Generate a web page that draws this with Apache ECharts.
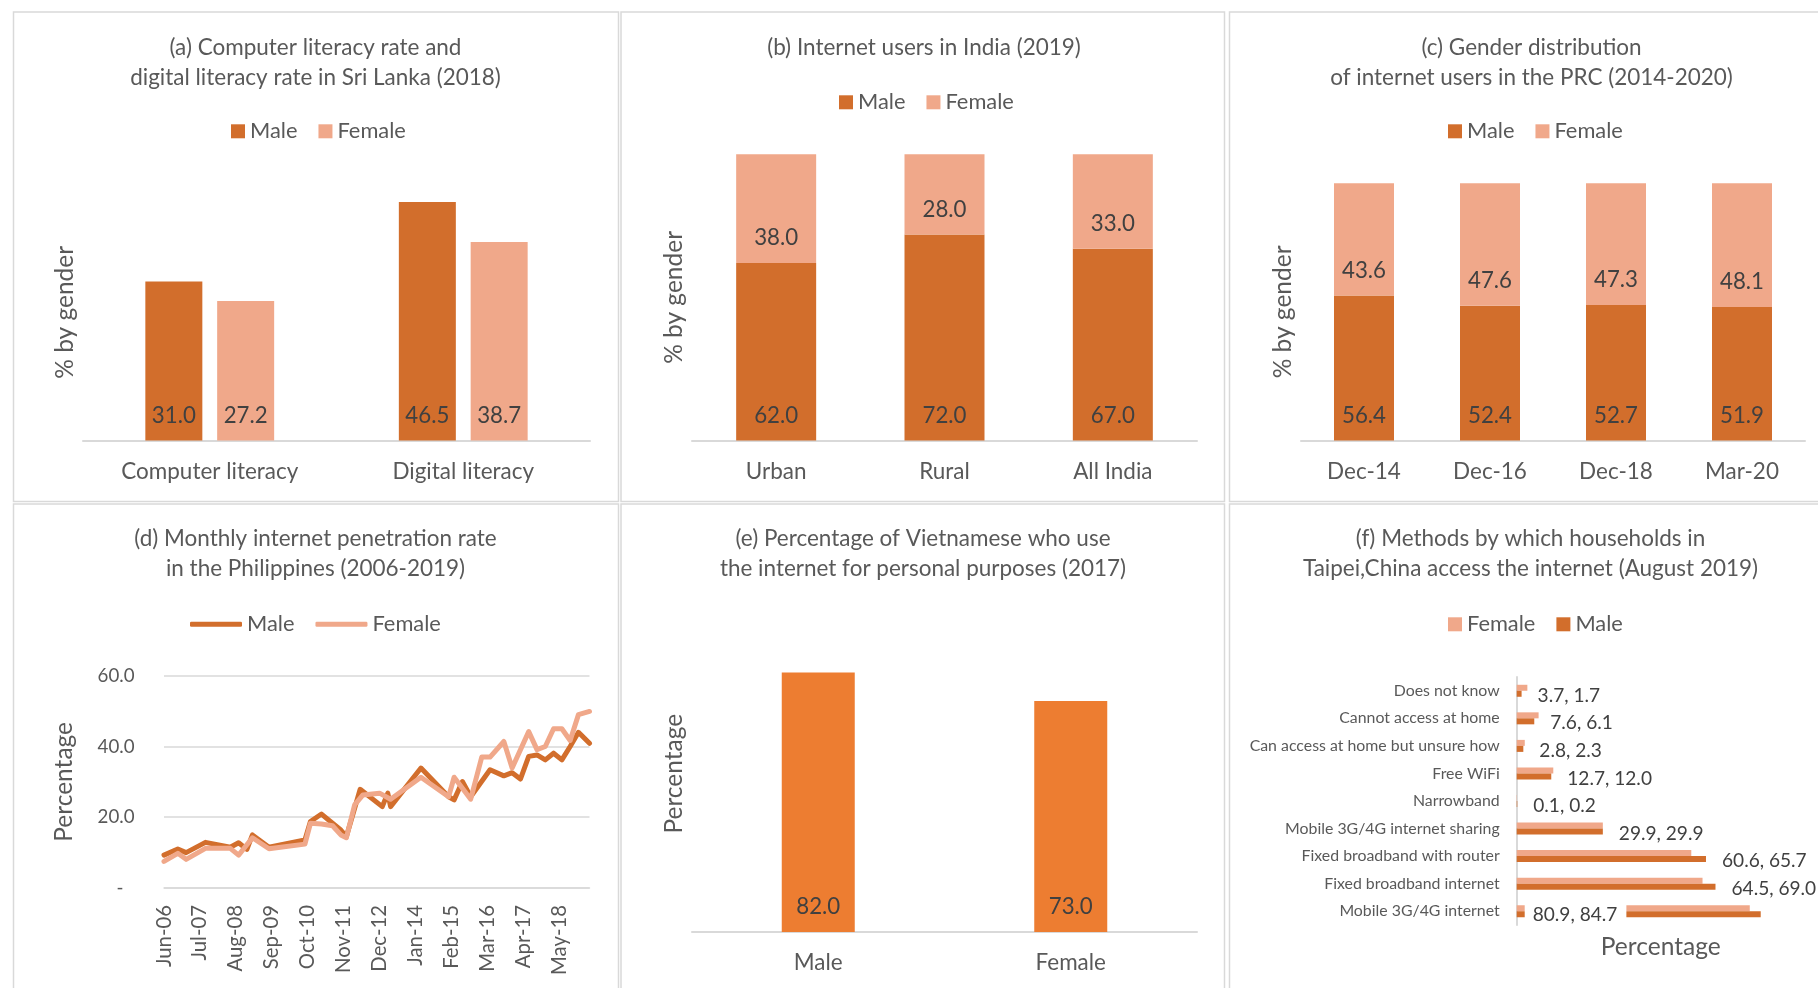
<!DOCTYPE html>
<html><head><meta charset="utf-8">
<script src="https://cdn.jsdelivr.net/npm/echarts@6/dist/echarts.min.js"></script>
<style>html,body{margin:0;padding:0;background:#fff}#c{width:1818px;height:988px}</style>
</head><body><div id="c"></div><script>
// ---------- DATA ----------
const literacyCats = ['Computer literacy', 'Digital literacy'];
const literacyMale = [31.0, 46.5];
const literacyFemale = [27.2, 38.7];

const indiaCats = ['Urban', 'Rural', 'All India'];
const indiaMale = [62.0, 72.0, 67.0];
const indiaFemale = [38.0, 28.0, 33.0];

const prcCats = ['Dec-14', 'Dec-16', 'Dec-18', 'Mar-20'];
const prcMale = [56.4, 52.4, 52.7, 51.9];
const prcFemale = [43.6, 47.6, 47.3, 48.1];

const phAxisStart = 'Jun-06';
const phAxisEnd = 'Apr-19';
const phMonths = ['Jun-06','Nov-06','Feb-07','Sep-07','Jun-08','Sep-08','Dec-08','Feb-09','Aug-09','Sep-10',
  'Nov-10','Mar-11','Jul-11','Oct-11','Dec-11','Mar-12','May-12','Jun-12','Dec-12','Jan-13',
  'Mar-13','Apr-13','Mar-14','Jan-15','Mar-15','Jun-15','Sep-15','Jan-16','Apr-16','Sep-16',
  'Dec-16','Mar-17','Jun-17','Sep-17','Dec-17','Mar-18','Jun-18','Sep-18','Dec-18','Apr-19'];
const phMale = [9.3, 11.0, 10.0, 12.9, 11.5, 12.8, 10.9, 15.0, 11.5, 13.6,
  18.8, 20.9, 18.3, 16.4, 14.5, null, 27.9, null, null, 23.0,
  26.8, 23.0, 33.9, 25.8, 24.9, 30.1, 25.8, null, 33.4, 31.7,
  32.6, 30.8, 37.2, 37.6, 36.2, 38.1, 36.2, 40.0, 44.0, 40.9];
const phFemale = [7.5, 9.8, 8.1, 11.2, 11.2, 9.3, null, 14.2, 11.1, 12.4,
  18.3, 18.1, 17.6, 15.0, 14.2, 23.5, null, 26.3, 26.8, null,
  null, 25.1, 31.3, 25.8, 31.3, null, 25.1, 37.0, 37.0, 41.4,
  33.9, null, 44.2, 39.1, 40.0, 45.0, 45.0, 41.7, 49.0, 49.9];

const vnCats = ['Male', 'Female'];
const vnValues = [82.0, 73.0];

const tpCats = ['Does not know', 'Cannot access at home', 'Can access at home but unsure how', 'Free WiFi',
  'Narrowband', 'Mobile 3G/4G internet sharing', 'Fixed broadband with router', 'Fixed broadband internet',
  'Mobile 3G/4G internet'];
const tpFemale = [3.7, 7.6, 2.8, 12.7, 0.1, 29.9, 60.6, 64.5, 80.9];
const tpMale = [1.7, 6.1, 2.3, 12.0, 0.2, 29.9, 65.7, 69.0, 84.7];

// ---------- HELPERS ----------
const MON = ['Jan','Feb','Mar','Apr','May','Jun','Jul','Aug','Sep','Oct','Nov','Dec'];
function parseM(s) { const p = s.split('-'); return (2000 + (+p[1])) * 12 + MON.indexOf(p[0]); }
const a0 = parseM(phAxisStart), a1 = parseM(phAxisEnd);
const phAxis = [];
for (let k = a0; k <= a1; k++) phAxis.push(MON[k % 12] + '-' + String(Math.floor(k / 12) % 100).padStart(2, '0'));
function toLine(vals) {
  const out = phAxis.map(() => null);
  phMonths.forEach((m, i) => { if (vals[i] != null) out[parseM(m) - a0] = vals[i]; });
  return out;
}

const FAM = 'Lato, "Liberation Sans", sans-serif';
const ctx = document.createElement('canvas').getContext('2d');
function fit(text, w) { ctx.font = '100px ' + FAM; return +(100 * w / ctx.measureText(text).width).toFixed(2); }
const fsTitle = fit('(a) Computer literacy rate and', 292);
const fsCat = fit('Computer literacy', 177);
const fsYName = fit('% by gender', 133);
const fsBarLbl = fit('31.0', 44);
const fsLegend = fit('Female', 68.4);
const fsTpCat = fit('Mobile 3G/4G internet sharing', 214.7);
const fsTpLbl = fit('29.9, 29.9', 84.7);
const fsPhY = fit('60.0', 37);
const fsPhX = fit('May-18', 70);
const fsPct = fit('Percentage', 120);

const C_M = '#D26E2C', C_F = '#F0A88A', C_E = '#ED7D31', TXT = '#595959', LBL = '#404040', GRID = '#D9D9D9';

const fmt1 = p => p.value.toFixed(1);
const barLabel = { show: true, position: 'insideBottom', distance: 14, formatter: fmt1, color: LBL, fontSize: fsBarLbl, fontFamily: FAM };

function titleAt(text, x, y) {
  return { text, left: x, top: y, textAlign: 'center', padding: 0,
    textStyle: { fontFamily: FAM, fontSize: fsTitle, fontWeight: 'normal', color: TXT, lineHeight: 30 } };
}
function legendAt(names, x, y, line) {
  return { data: names, left: x, top: y, padding: 0, selectedMode: false,
    icon: line ? 'roundRect' : 'rect', itemWidth: line ? 52 : 14, itemHeight: line ? 5 : 14, itemGap: 21,
    textStyle: { fontFamily: FAM, fontSize: fsLegend, color: TXT } };
}
function catX(gi, data) {
  return { type: 'category', gridIndex: gi, data,
    axisLine: { lineStyle: { color: GRID, width: 2 } }, axisTick: { show: false },
    axisLabel: { color: TXT, fontSize: fsCat, fontFamily: FAM, margin: 20 } };
}
function hiddenY(gi, max, name) {
  return { type: 'value', gridIndex: gi, min: 0, max, name, nameLocation: 'middle', nameGap: 5,
    nameMoveOverlap: false,
    nameTextStyle: { color: TXT, fontSize: fsYName, fontFamily: FAM },
    axisLine: { show: false }, axisTick: { show: false }, axisLabel: { show: false }, splitLine: { show: false } };
}

const panels = [
  [13.5, 12, 605, 489.5], [621, 12, 603.5, 489.5], [1229.5, 12, 600, 489.5],
  [13.5, 504, 605, 500], [621, 504, 603.5, 500], [1229.5, 504, 600, 500]
];

const option = {
  animation: false,
  backgroundColor: '#fff',
  textStyle: { fontFamily: FAM },
  graphic: panels.map(r => ({ type: 'rect', silent: true, z: -10,
    shape: { x: r[0], y: r[1], width: r[2], height: r[3] },
    style: { fill: 'none', stroke: GRID, lineWidth: 1.5 } })),
  title: [
    titleAt('(a) Computer literacy rate and\ndigital literacy rate in Sri Lanka (2018)', 315.5, 32.6),
    titleAt('(b) Internet users in India (2019)', 924, 32.6),
    titleAt('(c) Gender distribution\nof internet users in the PRC (2014-2020)', 1531.5, 32.6),
    titleAt('(d) Monthly internet penetration rate\nin the Philippines (2006-2019)', 315.5, 524.2),
    titleAt('(e) Percentage of Vietnamese who use\nthe internet for personal purposes (2017)', 923, 524.2),
    titleAt('(f) Methods by which households in\nTaipei,China access the internet (August 2019)', 1530.5, 524.2)
  ],
  legend: [
    legendAt(['Male', 'Female'], 231, 120.3),
    legendAt(['Male', 'Female'], 839, 91.3),
    legendAt(['Male', 'Female'], 1448, 120.3),
    legendAt(['Male', 'Female'], 190, 613.3, true),
    legendAt(['Female', 'Male'], 1448, 613.3)
  ],
  grid: [
    { left: 83, top: 184, width: 507, height: 256.6, outerBoundsMode: 'none' },
    { left: 692, top: 154.2, width: 505, height: 286.4, outerBoundsMode: 'none' },
    { left: 1301, top: 183.2, width: 504, height: 257.4, outerBoundsMode: 'none' },
    { left: 164, top: 675.7, width: 425.5, height: 212.3, outerBoundsMode: 'none' },
    { left: 692, top: 615.4, width: 505, height: 316.6, outerBoundsMode: 'none' },
    { left: 1516.7, top: 677, width: 288.1, height: 248, outerBoundsMode: 'none' }
  ],
  xAxis: [
    catX(0, literacyCats),
    catX(1, indiaCats),
    catX(2, prcCats),
    { type: 'category', gridIndex: 3, data: phAxis, boundaryGap: false,
      axisLine: { lineStyle: { color: GRID, width: 1.5 } }, axisTick: { show: false },
      axisLabel: { rotate: 90, interval: 12, margin: 17, color: TXT, fontSize: fsPhX, fontFamily: FAM } },
    catX(4, vnCats),
    { type: 'value', gridIndex: 5, min: 0, max: 100, name: 'Percentage', nameLocation: 'middle', nameGap: 10,
      nameMoveOverlap: false,
      nameTextStyle: { color: TXT, fontSize: fsPct, fontFamily: FAM },
      axisLine: { show: false }, axisTick: { show: false }, axisLabel: { show: false }, splitLine: { show: false } }
  ],
  yAxis: [
    hiddenY(0, 50, '% by gender'),
    hiddenY(1, 100, '% by gender'),
    hiddenY(2, 100, '% by gender'),
    { type: 'value', gridIndex: 3, min: 0, max: 60, interval: 20, name: 'Percentage', nameLocation: 'middle',
      nameGap: 87, nameMoveOverlap: false,
      nameTextStyle: { color: TXT, fontSize: fsYName, fontFamily: FAM },
      axisLine: { show: false }, axisTick: { show: false },
      splitLine: { lineStyle: { color: GRID, width: 1.5 } },
      axisLabel: { margin: 29.5, color: TXT, fontSize: fsPhY, fontFamily: FAM,
        formatter: v => v === 0 ? '{z|-}' : v.toFixed(1),
        rich: { z: { width: 18, align: 'left', color: TXT, fontSize: fsPhY, fontFamily: FAM } } } },
    hiddenY(4, 100, 'Percentage'),
    { type: 'category', gridIndex: 5, data: tpCats, inverse: true,
      axisLine: { lineStyle: { color: GRID, width: 2 } }, axisTick: { show: false },
      axisLabel: { color: TXT, fontSize: fsTpCat, fontFamily: FAM, margin: 17 } }
  ],
  series: [
    { type: 'bar', name: 'Male', xAxisIndex: 0, yAxisIndex: 0, data: literacyMale, barWidth: 57, barGap: '26%',
      itemStyle: { color: C_M }, label: barLabel },
    { type: 'bar', name: 'Female', xAxisIndex: 0, yAxisIndex: 0, data: literacyFemale, barWidth: 57, barGap: '26%',
      itemStyle: { color: C_F }, label: barLabel },

    { type: 'bar', name: 'Male', xAxisIndex: 1, yAxisIndex: 1, stack: 'in', data: indiaMale, barWidth: 80,
      itemStyle: { color: C_M }, label: barLabel },
    { type: 'bar', name: 'Female', xAxisIndex: 1, yAxisIndex: 1, stack: 'in', data: indiaFemale, barWidth: 80,
      itemStyle: { color: C_F }, label: barLabel },

    { type: 'bar', name: 'Male', xAxisIndex: 2, yAxisIndex: 2, stack: 'prc', data: prcMale, barWidth: 60,
      itemStyle: { color: C_M }, label: barLabel },
    { type: 'bar', name: 'Female', xAxisIndex: 2, yAxisIndex: 2, stack: 'prc', data: prcFemale, barWidth: 60,
      itemStyle: { color: C_F }, label: barLabel },

    { type: 'line', name: 'Male', xAxisIndex: 3, yAxisIndex: 3, data: toLine(phMale), connectNulls: true,
      symbol: 'none', lineStyle: { color: C_M, width: 5, cap: 'round', join: 'round' }, itemStyle: { color: C_M } },
    { type: 'line', name: 'Female', xAxisIndex: 3, yAxisIndex: 3, data: toLine(phFemale), connectNulls: true,
      symbol: 'none', lineStyle: { color: C_F, width: 5, cap: 'round', join: 'round' }, itemStyle: { color: C_F } },

    { type: 'bar', name: 'Internet use', xAxisIndex: 4, yAxisIndex: 4, data: vnValues, barWidth: 73,
      itemStyle: { color: C_E }, label: barLabel },

    { type: 'bar', name: 'Female', xAxisIndex: 5, yAxisIndex: 5, data: tpFemale, barWidth: 6, barGap: '0%', z: 2,
      itemStyle: { color: C_F } },
    { type: 'bar', name: 'Male', xAxisIndex: 5, yAxisIndex: 5, barWidth: 6, barGap: '0%', z: 3,
      data: tpMale.map((v, i) => i === tpMale.length - 1
        ? { value: v, label: { position: 'insideLeft', distance: 8, offset: [0, 1], backgroundColor: '#fff', padding: [3, 9, 3, 8] } }
        : v),
      itemStyle: { color: C_M },
      label: { show: true, position: 'right', distance: 16, offset: [0, 2], color: LBL, fontSize: fsTpLbl, fontFamily: FAM,
        formatter: p => tpFemale[p.dataIndex].toFixed(1) + ', ' + tpMale[p.dataIndex].toFixed(1) } }
  ]
};

const chart = echarts.init(document.getElementById('c'), null, { renderer: 'canvas' });
chart.setOption(option);
</script></body></html>
